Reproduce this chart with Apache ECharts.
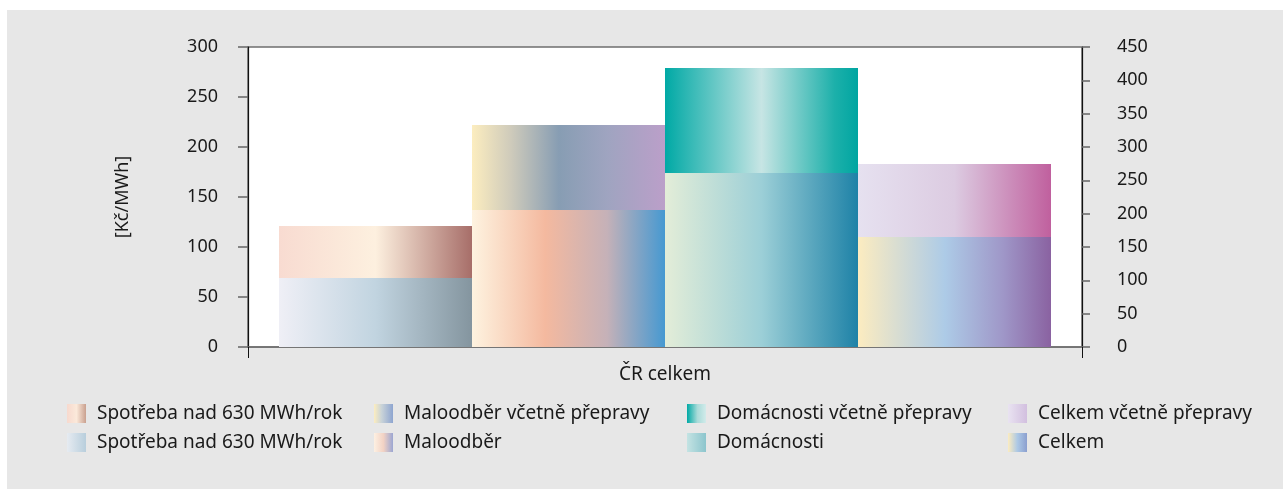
<!DOCTYPE html>
<html>
<head>
<meta charset="utf-8">
<script src="https://cdn.jsdelivr.net/npm/echarts@6/dist/echarts.min.js"></script>
<style>
html,body{margin:0;padding:0;background:#fff;}
#bg{position:absolute;left:7px;top:10px;right:0;bottom:0;background:#e7e7e7;}
#chart{position:absolute;left:0;top:0;width:1283px;height:489px;}
</style>
</head>
<body>
<div id="bg"></div>
<div id="chart"></div>
<script>
// ---- data ----
const categories = ['ČR celkem'];
const inclLabels = ['Spotřeba nad 630 MWh/rok', 'Maloodběr včetně přepravy', 'Domácnosti včetně přepravy', 'Celkem včetně přepravy'];
const exclLabels = ['Spotřeba nad 630 MWh/rok', 'Maloodběr', 'Domácnosti', 'Celkem'];
const inclValues = [121, 222, 279, 183];
const exclValues = [69, 137, 174, 110];
const leftTicks = [0, 50, 100, 150, 200, 250, 300];
const rightTicks = [0, 50, 100, 150, 200, 250, 300, 350, 400, 450];
const yAxisName = '[Kč/MWh]';

// ---- styles ----
const FONT = 'Noto Sans';
function grad(stops) {
  return new echarts.graphic.LinearGradient(0, 0, 1, 0,
    stops.map(s => ({offset: s[0], color: s[1]})));
}
const inclColors = [
  grad([[0, '#f8dbd1'], [0.5, '#fdf0df'], [1, '#a76e69']]),
  grad([[0, '#fcedbf'], [0.2, '#cfcbbb'], [0.45, '#879db3'], [0.7, '#9fa4c0'], [1, '#bb9fc9']]),
  grad([[0, '#00a9a5'], [0.5, '#c7e5e4'], [0.88, '#1cb0aa'], [1, '#00a5a1']]),
  grad([[0, '#e6e1f0'], [0.5, '#dccbe1'], [1, '#c0609e']])
];
const exclColors = [
  grad([[0, '#efeff6'], [0.5, '#c1d4e0'], [1, '#84959f']]),
  grad([[0, '#fef3e0'], [0.38, '#f4b99f'], [0.7, '#c5b1b8'], [1, '#4699d1']]),
  grad([[0, '#e3edd8'], [0.5, '#9ccfd7'], [1, '#1e82a7']]),
  grad([[0, '#fcecc0'], [0.45, '#adcbe7'], [0.75, '#9f97c8'], [1, '#8a62a1']])
];
// legend swatches (the reference shows a softer excerpt of each gradient)
const inclIcons = [
  grad([[0, '#f7d9ce'], [0.5, '#fbe9da'], [1, '#c9a08f']]),
  grad([[0, '#fcedc0'], [0.4, '#c9d3d8'], [1, '#8ea5d0']]),
  grad([[0, '#00a9a5'], [0.55, '#a9dbd9'], [1, '#d2ebea']]),
  grad([[0, '#e9e3f1'], [1, '#d2bfdf']])
];
const exclIcons = [
  grad([[0, '#e6ebf1'], [1, '#b8cedc']]),
  grad([[0, '#fdf0e2'], [0.5, '#f2d2c4'], [1, '#9ba6d2']]),
  grad([[0, '#c4e3e3'], [1, '#8cc5cd']]),
  grad([[0, '#fcecc0'], [0.5, '#acc8e5'], [1, '#8b9fcf']])
];
const ZW = '\u200B';
const exclNames = exclLabels.map((l, i) => inclLabels.indexOf(l) >= 0 ? l + ZW : l);

const series = [];
inclLabels.forEach((name, i) => {
  series.push({
    name: name, type: 'bar', xAxisIndex: 0, yAxisIndex: 0,
    data: [inclValues[i]], barWidth: 193, barGap: '0%',
    itemStyle: {color: inclColors[i]}, emphasis: {disabled: true}
  });
});
exclNames.forEach((name, i) => {
  series.push({
    name: name, type: 'bar', xAxisIndex: 1, yAxisIndex: 0,
    data: [exclValues[i]], barWidth: 193, barGap: '0%',
    itemStyle: {color: exclColors[i]}, emphasis: {disabled: true}
  });
});

const legendLefts = [67, 374, 687, 1008];
const legends = legendLefts.map((left, i) => ({
  left: left, top: 404, orient: 'vertical', padding: 0,
  itemWidth: 19, itemHeight: 19, itemGap: 10,
  icon: 'rect', selectedMode: false,
  data: [
    {name: inclLabels[i], itemStyle: {color: inclIcons[i]}},
    {name: exclNames[i], itemStyle: {color: exclIcons[i]}}
  ],
  formatter: n => n.replace(ZW, ''),
  textStyle: {fontFamily: FONT, fontSize: 19, color: '#1a1a1a', padding: [0, 0, 0, 6]}
}));

const chart = echarts.init(document.getElementById('chart'), null, {renderer: 'canvas'});
chart.setOption({
  animation: false,
  backgroundColor: 'transparent',
  grid: {left: 248, right: 201, top: 47, bottom: 142, show: true,
         backgroundColor: '#ffffff', borderColor: '#6f6f6f', borderWidth: 1.5},
  legend: legends,
  xAxis: [
    {type: 'category', data: categories, boundaryGap: true,
     axisLine: {lineStyle: {color: '#6f6f6f', width: 1.5}},
     axisTick: {show: true, length: 11, lineStyle: {color: '#111', width: 1}},
     axisLabel: {fontFamily: FONT, fontSize: 19, color: '#1a1a1a', margin: 18}},
    {type: 'category', data: categories, show: false}
  ],
  yAxis: [
    {type: 'value', min: leftTicks[0], max: leftTicks[leftTicks.length - 1], interval: 50,
     position: 'left', name: yAxisName, nameLocation: 'middle', nameGap: 116, nameRotate: 90,
     nameTextStyle: {fontFamily: FONT, fontSize: 18, color: '#1a1a1a'},
     axisLine: {show: true, lineStyle: {color: '#111', width: 1.2}},
     axisTick: {show: true, length: 10, lineStyle: {color: '#666', width: 1.5}},
     axisLabel: {fontFamily: FONT, fontSize: 18, color: '#1a1a1a', margin: 30},
     splitLine: {show: false}},
    {type: 'value', min: rightTicks[0], max: rightTicks[rightTicks.length - 1], interval: 50,
     position: 'right',
     axisLine: {show: true, lineStyle: {color: '#111', width: 1.2}},
     axisTick: {show: true, length: 8, lineStyle: {color: '#666', width: 1.5}},
     axisLabel: {fontFamily: FONT, fontSize: 18, color: '#1a1a1a', margin: 35},
     splitLine: {show: false}}
  ],
  series: series
});
</script>
</body>
</html>
